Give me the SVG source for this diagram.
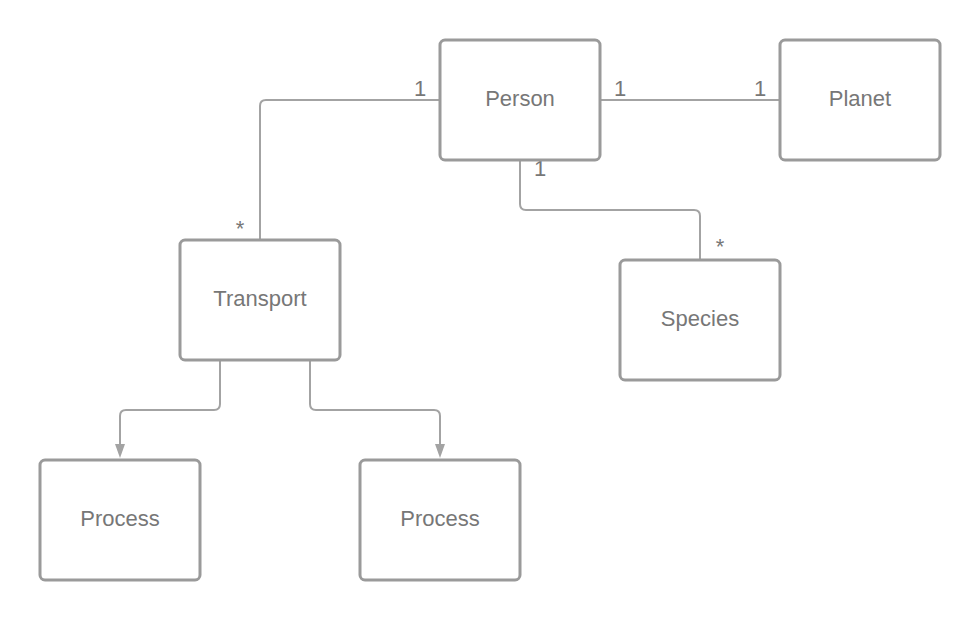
<svg xmlns="http://www.w3.org/2000/svg" width="980" height="620" viewBox="0 0 980 620">
<style>
.box{fill:#fff;stroke:#9a9a9a;stroke-width:3}
.lbl{font-family:"Liberation Sans",Arial,sans-serif;font-size:22px;fill:#777;text-anchor:middle}
.ln{fill:none;stroke:#a3a3a3;stroke-width:2}
.m{font-family:"Liberation Sans",Arial,sans-serif;font-size:22px;fill:#777;text-anchor:middle}
</style>
<defs>
<marker id="arr" viewBox="0 0 10 14" refX="5" refY="14" markerWidth="10" markerHeight="14" markerUnits="userSpaceOnUse" orient="auto-start-reverse">
<path d="M0,0 L10,0 L5,14 Z" fill="#a3a3a3"/>
</marker>
</defs>
<rect width="980" height="620" fill="#fff"/>
<g id="connectors">
<path class="ln" d="M440,100 H266 Q260,100 260,106 V240"/>
<path class="ln" d="M600,100 H780"/>
<path class="ln" d="M520,160 V204 Q520,210 526,210 H694 Q700,210 700,216 V260"/>
<path class="ln" d="M220,360 V404 Q220,410 214,410 H126 Q120,410 120,416 V444"/>
<path d="M115,444 L125,444 L120,458 Z" fill="#a3a3a3"/>
<path class="ln" d="M310,360 V404 Q310,410 316,410 H434 Q440,410 440,416 V444"/>
<path d="M435,444 L445,444 L440,458 Z" fill="#a3a3a3"/>
<text class="m" x="420" y="96">1</text>
<text class="m" x="240" y="236">*</text>
<text class="m" x="620" y="96">1</text>
<text class="m" x="760" y="96">1</text>
<text class="m" x="540" y="176">1</text>
<text class="m" x="720" y="254">*</text>
</g>
<g id="person"><rect class="box" x="440" y="40" width="160" height="120" rx="5"/><text class="lbl" x="520" y="106">Person</text></g>
<g id="planet"><rect class="box" x="780" y="40" width="160" height="120" rx="5"/><text class="lbl" x="860" y="106">Planet</text></g>
<g id="transport"><rect class="box" x="180" y="240" width="160" height="120" rx="5"/><text class="lbl" x="260" y="306">Transport</text></g>
<g id="species"><rect class="box" x="620" y="260" width="160" height="120" rx="5"/><text class="lbl" x="700" y="326">Species</text></g>
<g id="process1"><rect class="box" x="40" y="460" width="160" height="120" rx="5"/><text class="lbl" x="120" y="526">Process</text></g>
<g id="process2"><rect class="box" x="360" y="460" width="160" height="120" rx="5"/><text class="lbl" x="440" y="526">Process</text></g>
</svg>
